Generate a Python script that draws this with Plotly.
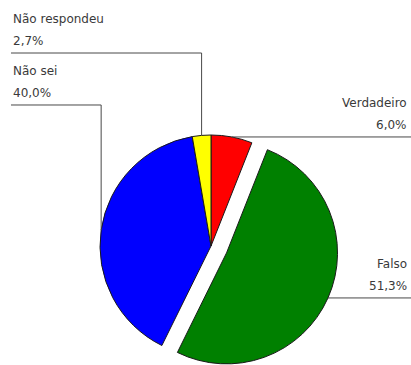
import math
import plotly.graph_objects as go

# Survey answers and their shares (%)
labels = ["Verdadeiro", "Falso", "Não sei", "Não respondeu"]
values = [6.0, 51.3, 40.0, 2.7]
colors = ["#FF0000", "#008000", "#0000FF", "#FFFF00"]
pulled_label = "Falso"

# Label placement: side of the chart and, for left-side labels, the height of the elbow
label_side = {"Verdadeiro": "right", "Falso": "right", "Não sei": "left", "Não respondeu": "left"}
elbow_y = {"Não sei": 105, "Não respondeu": 53}

W, H = 411, 365
CX, CY, R = 211, 246, 111        # pie centre and radius in pixels
PULL_PX = 17                      # offset of the exploded slice
LEFT_X, RIGHT_X = 11, 409
FONT = dict(family="DejaVu Sans, Verdana, sans-serif", size=12, color="#3a3a3a")
LINE = dict(color="#484848", width=1)

total = sum(values)
mids = []
acc = 0.0
for v in values:
    mids.append((acc + v / 2) / total * 360.0)
    acc += v


def polar(cx, cy, ang, rad):
    a = math.radians(ang)
    return cx + rad * math.sin(a), cy - rad * math.cos(a)


def domain(cx, cy, r):
    return dict(x=[(cx - r) / W, (cx + r) / W],
                y=[(H - cy - r) / H, (H - cy + r) / H])


def px(x, y):
    return x / W, 1 - y / H


ip = labels.index(pulled_label)
pcx, pcy = polar(CX, CY, mids[ip], PULL_PX)

transparent = "rgba(0,0,0,0)"
base_colors = [transparent if l == pulled_label else c for l, c in zip(labels, colors)]
base_widths = [0 if l == pulled_label else 1 for l in labels]
exp_colors = [c if l == pulled_label else transparent for l, c in zip(labels, colors)]
exp_widths = [1 if l == pulled_label else 0 for l in labels]

common = dict(labels=labels, values=values, sort=False, direction="clockwise",
              rotation=0, textinfo="none", showlegend=False, hoverinfo="label+percent")

fig = go.Figure()
fig.add_trace(go.Pie(**common, domain=domain(CX, CY, R),
                     marker=dict(colors=base_colors,
                                 line=dict(color="#1a1a1a", width=base_widths))))
fig.add_trace(go.Pie(**common, domain=domain(pcx, pcy, R),
                     marker=dict(colors=exp_colors,
                                 line=dict(color="#1a1a1a", width=exp_widths))))

shapes = []
annotations = []
for lab, val, mid in zip(labels, values, mids):
    cx, cy = (pcx, pcy) if lab == pulled_label else (CX, CY)
    sx, sy = polar(cx, cy, mid, R)
    if label_side[lab] == "right":
        ly = sy
        pts = [(sx, sy), (W, sy)]
        tx, anchor = RIGHT_X, "right"
    else:
        ly = elbow_y[lab]
        pts = [(sx, sy), (sx, ly), (LEFT_X, ly)]
        tx, anchor = LEFT_X, "left"
    path = "M " + " L ".join(f"{px(x, y)[0]:.5f},{px(x, y)[1]:.5f}" for x, y in pts)
    shapes.append(dict(type="path", path=path, xref="paper", yref="paper", line=LINE))
    pct = f"{val:.1f}".replace(".", ",") + "%"
    for text, dy in ((lab, 34), (pct, 12)):
        x, y = px(tx, ly - dy)
        annotations.append(dict(text=text, x=x, y=y, xref="paper", yref="paper",
                                xanchor=anchor, yanchor="middle", showarrow=False,
                                font=FONT))

fig.update_layout(width=W, height=H, margin=dict(l=0, r=0, t=0, b=0, pad=0),
                  paper_bgcolor="white", plot_bgcolor="white",
                  shapes=shapes, annotations=annotations)

fig.write_html("out.html")
